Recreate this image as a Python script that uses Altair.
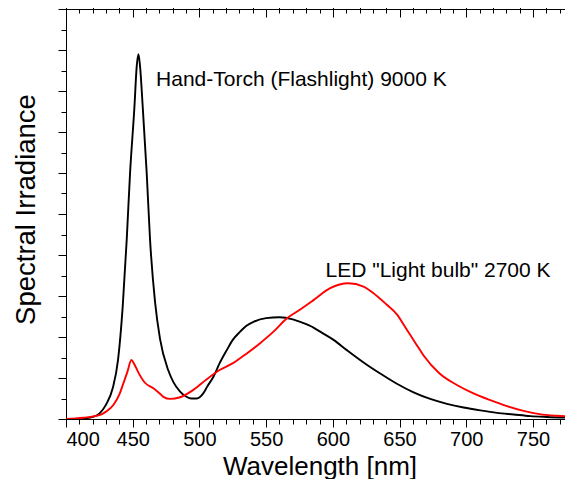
import altair as alt
import pandas as pd

# Hand-Torch (Flashlight) 9000 K spectrum (black)
torch_nm = [400, 410, 415, 420, 425, 430, 435, 439, 442.5, 445.5, 448, 451.3, 453, 454.3,
            455.5, 457.5, 460.5, 463, 466.75, 470.5, 476.5, 480.5, 485.5, 490, 494, 498,
            503, 506, 510.5, 515, 520.5, 525, 530.5, 535, 540.5, 550, 560, 570, 577,
            585.5, 592, 600.5, 610.5, 623, 635.5, 648, 660.5, 673, 685.5, 698, 710.5,
            723, 735.5, 748, 760.5, 780]
torch_val = [0, 0.01, 0.02, 0.05, 0.13, 0.35, 0.75, 1.44, 2.74, 4.37, 5.99, 7.62, 8.6, 8.9,
             8.6, 7.62, 5.99, 4.37, 2.85, 1.95, 1.2, 0.9, 0.67, 0.55, 0.5, 0.5,
             0.63, 0.8, 1.03, 1.35, 1.68, 1.93, 2.13, 2.27, 2.37, 2.46, 2.48, 2.43, 2.35,
             2.23, 2.1, 1.93, 1.68, 1.38, 1.11, 0.86, 0.65, 0.49, 0.37, 0.28, 0.21,
             0.15, 0.11, 0.07, 0.05, 0.03]

# LED "Light bulb" 2700 K spectrum (red)
led_nm = [400, 413, 425.5, 430, 435.5, 440, 443, 446, 449, 451, 454, 459, 465.5, 470, 473,
          478, 485.5, 495.5, 505.5, 515.5, 525.5, 535.5, 545.5, 555.5, 565, 575, 585.5,
          598, 605, 611.7, 623, 630, 640, 648, 655, 662, 668, 680, 693, 705, 718, 730,
          743, 755, 768, 780]
led_val = [0, 0.03, 0.1, 0.18, 0.34, 0.6, 0.87, 1.15, 1.44, 1.35, 1.15, 0.89, 0.75, 0.63, 0.54,
           0.49, 0.53, 0.71, 0.97, 1.2, 1.37, 1.6, 1.85, 2.13, 2.44, 2.66, 2.9,
           3.19, 3.28, 3.31, 3.23, 3.08, 2.8, 2.55, 2.2, 1.85, 1.55, 1.11, 0.83, 0.63, 0.46, 0.32,
           0.2, 0.12, 0.08, 0.06]

series_names = ["Hand-Torch (Flashlight) 9000 K", 'LED "Light bulb" 2700 K']
series_colors = ["#000000", "#ff0000"]

label_nm = [467.5, 594.5]
label_val = [8.12, 3.46]

major_x = [400, 450, 500, 550, 600, 650, 700, 750]
minor_x = list(range(400, 781, 10))
major_y = list(range(0, 11))
minor_y = [i + 0.5 for i in range(0, 10)]

rows = []
for n, v in zip(torch_nm, torch_val):
    rows.append({"nm": n, "val": v, "series": series_names[0]})
for n, v in zip(led_nm, led_val):
    rows.append({"nm": n, "val": v, "series": series_names[1]})
df = pd.DataFrame(rows)
labels_df = pd.DataFrame({"nm": label_nm, "val": label_val, "text": series_names})

W, H = 507, 410
FONT = "Liberation Sans"
xs = alt.Scale(domain=[400, 780], nice=False, zero=False)
ys = alt.Scale(domain=[0, 10], nice=False, zero=False)
color = alt.Color("series:N", scale=alt.Scale(domain=series_names, range=series_colors), legend=None)

lines = alt.Chart(df).mark_line(strokeWidth=1.9, clip=True, interpolate="monotone").encode(
    x=alt.X("nm:Q", scale=xs, axis=alt.Axis(
        orient="bottom", values=major_x, tickSize=8, labelFontSize=20, labelPadding=2,
        domain=True, title="Wavelength [nm]", titleFontSize=26, titleY=55,
        titleBaseline="alphabetic")),
    y=alt.Y("val:Q", scale=ys, axis=alt.Axis(
        orient="left", values=major_y, tickSize=8, labels=False, domain=True,
        title="Spectral Irradiance", titleFontSize=27.5, titlePadding=17, titleY=200)),
    color=color,
    detail="series:N",
)

minor_bl = alt.Chart(df).mark_point(opacity=0).encode(
    x=alt.X("nm:Q", scale=xs, axis=alt.Axis(orient="bottom", values=minor_x, tickSize=5,
                                            labels=False, domain=False), title=None),
    y=alt.Y("val:Q", scale=ys, axis=alt.Axis(orient="left", values=minor_y, tickSize=5,
                                             labels=False, domain=False), title=None),
)

major_tr = alt.Chart(df).mark_point(opacity=0).encode(
    x=alt.X("nm:Q", scale=xs, axis=alt.Axis(orient="bottom", offset=-H, values=major_x,
                                            tickSize=8, labels=False, domain=True), title=None),
    y=alt.Y("val:Q", scale=ys, axis=alt.Axis(orient="left", offset=-W, values=major_y,
                                             tickSize=7, labels=False, domain=False), title=None),
)

minor_tr = alt.Chart(df).mark_point(opacity=0).encode(
    x=alt.X("nm:Q", scale=xs, axis=alt.Axis(orient="bottom", offset=-H, values=minor_x,
                                            tickSize=4, labels=False, domain=False), title=None),
    y=alt.Y("val:Q", scale=ys, axis=alt.Axis(orient="left", offset=-W, values=minor_y,
                                             tickSize=3, labels=False, domain=False), title=None),
)

texts = alt.Chart(labels_df).mark_text(align="left", baseline="alphabetic", fontSize=21,
                                       font=FONT, color="black").encode(
    x=alt.X("nm:Q", scale=xs),
    y=alt.Y("val:Q", scale=ys),
    text="text:N",
)

chart = alt.layer(lines, minor_bl, major_tr, minor_tr, texts).resolve_axis(
    x="independent", y="independent"
).properties(
    width=W, height=H,
    autosize=alt.AutoSizeParams(type="none"),
    padding={"left": 58, "top": 1, "right": -8, "bottom": 60},
).configure_view(stroke=None).configure_axis(
    grid=False, labelFont=FONT, titleFont=FONT, labelColor="black", titleColor="black",
    tickColor="black", domainColor="black", titleFontWeight="normal", tickWidth=1,
    domainWidth=1,
)

chart.save("out.html", embed_options={"renderer": "svg", "actions": False})
